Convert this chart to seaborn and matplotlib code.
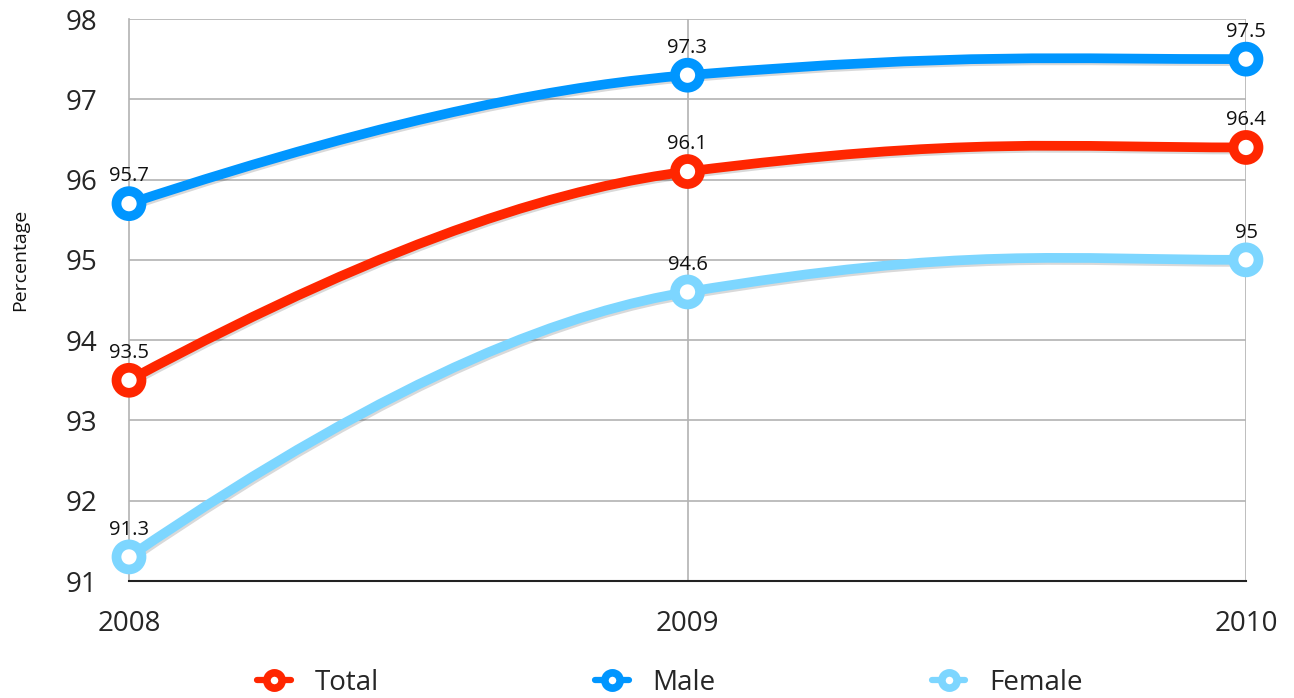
import matplotlib
matplotlib.use("Agg")
from matplotlib import pyplot as plt
from matplotlib import patheffects as pe
from matplotlib.path import Path
from matplotlib.patches import PathPatch
from matplotlib.lines import Line2D
import pandas as pd
import seaborn as sns

years = [2008, 2009, 2010]
total = [93.5, 96.1, 96.4]
male = [95.7, 97.3, 97.5]
female = [91.3, 94.6, 95.0]
series_names = ["Total", "Male", "Female"]
colors = {"Total": "#ff2600", "Male": "#0096ff", "Female": "#7dd6ff"}

df = pd.DataFrame({"Year": years * 3,
                   "Value": total + male + female,
                   "Series": [s for s in series_names for _ in years]})

sns.set_theme(style="white")
plt.rcParams["font.family"] = ["Open Sans", "DejaVu Sans"]


def smooth_path(xs, ys):
    # bezier through the points, tuned to look like the keynote smoothing
    n = len(xs)
    d = [(ys[i + 1] - ys[i]) / (xs[i + 1] - xs[i]) for i in range(n - 1)]
    m = [0.0] * n
    for i in range(1, n - 1):
        if d[i - 1] * d[i] > 0:
            m[i] = (d[i - 1] * d[i]) ** 0.5 * (1 if d[i] > 0 else -1)
    m[0] = (3 * d[0] - d[1]) / 2
    if m[0] * d[0] < 0:
        m[0] = 0.0
    m[-1] = (3 * d[-1] - d[-2]) / 2
    if m[-1] * d[-1] < 0:
        m[-1] = 0.0
    verts = [(xs[0], ys[0])]
    codes = [Path.MOVETO]
    for i in range(n - 1):
        w = xs[i + 1] - xs[i]
        h_out = 0.5 * w
        h_in = w / 3 if i + 1 == n - 1 else 0.2 * w
        verts += [(xs[i] + h_out, ys[i] + m[i] * h_out),
                  (xs[i + 1] - h_in, ys[i + 1] - m[i + 1] * h_in),
                  (xs[i + 1], ys[i + 1])]
        codes += [Path.CURVE4] * 3
    return Path(verts, codes)


fig = plt.figure(figsize=(12.94, 6.98), dpi=100)
ax = fig.add_axes([129 / 1294, 1 - 581 / 698, 1117 / 1294, 562 / 698])

ax.set_xlim(2008, 2010)
ax.set_ylim(91, 98)
ax.set_yticks(range(91, 99))
ax.set_xticks(years)
ax.set_xticklabels([str(y) for y in years])

for y in range(92, 99):
    ax.axhline(y, color="#b3b3b3", lw=1.2, zorder=1)
for x in years[1:]:
    ax.axvline(x, color="#b3b3b3", lw=1.2, zorder=1)
for s in ["top", "right"]:
    ax.spines[s].set_visible(False)
ax.spines["left"].set_color("#b3b3b3")
ax.spines["left"].set_linewidth(1.2)
ax.spines["bottom"].set_color("#222222")
ax.spines["bottom"].set_linewidth(1.5)

ax.tick_params(axis="y", length=0, pad=23, labelsize=20)
ax.tick_params(axis="x", length=0, pad=21, labelsize=20)

shadow = [pe.SimpleLineShadow(offset=(1, -1.5), shadow_color="black",
                              alpha=0.15), pe.Normal()]
for name in series_names:
    sub = df[df["Series"] == name]
    patch = PathPatch(smooth_path(list(sub["Year"]), list(sub["Value"])),
                      fill=False, edgecolor=colors[name], lw=7,
                      capstyle="round", joinstyle="round", zorder=3,
                      clip_on=False, path_effects=shadow)
    ax.add_patch(patch)

sns.scatterplot(data=df, x="Year", y="Value", hue="Series", palette=colors,
                s=324, facecolor="white", linewidth=7, legend=False,
                zorder=4, clip_on=False, ax=ax)
# scatterplot with hue paints edges in hue colour, faces white
for coll in ax.collections:
    coll.set_facecolor("white")
    coll.set_edgecolor([colors[s] for s in df["Series"]])

for _, row in df.iterrows():
    ax.annotate(f"{row['Value']:g}", (row["Year"], row["Value"]),
                xytext=(0, 16), textcoords="offset points",
                ha="center", va="baseline", fontsize=14.5, color="#111111",
                zorder=5)

ax.set_xlabel("")
ax.set_ylabel("")
fig.text(20 / 1294, 1 - 260 / 698, "Percentage", rotation=90,
         ha="center", va="center", fontsize=14, color="#111111")

handles = [Line2D([], [], color=colors[s], lw=4.5, marker="o", markersize=11,
                  markerfacecolor="white", markeredgecolor=colors[s],
                  markeredgewidth=5.5) for s in series_names]
fig.legend(handles, series_names, loc="center", ncol=3, frameon=False,
           bbox_to_anchor=(670 / 1294, 1 - 683 / 698), fontsize=20,
           handlelength=1.2, handletextpad=0.85, columnspacing=7.8)

fig.savefig("out.png", dpi=100)
